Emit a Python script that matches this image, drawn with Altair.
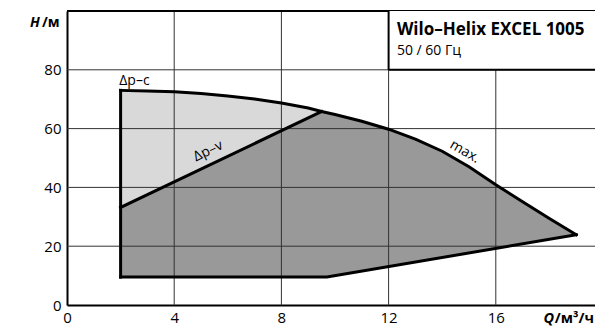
import altair as alt
import pandas as pd

# ---- data ----
max_q = [2, 3, 4, 5, 6, 7, 8, 9, 9.5, 10, 11, 12, 13, 14, 15, 16, 17, 18, 19]
max_h = [73.0, 72.8, 72.5, 71.9, 71.1, 70.1, 68.7, 67.0, 65.8, 64.8, 62.5, 59.8, 56.4,
         52.3, 47.0, 40.9, 35.1, 29.4, 23.9]
dpv_q = [2, 9.5]
dpv_h = [33.2, 65.8]
min_q = [2, 9.7, 19]
min_h = [9.5, 9.5, 23.9]
x_ticks = [0, 4, 8, 12, 16]
y_ticks = [0, 20, 40, 60, 80]
grid_x = [4, 8, 12, 16]
grid_y = [20, 40, 60, 80]
title_text = "Wilo–Helix EXCEL 1005"
sub_text = "50 / 60 Гц"

FONT = "Open Sans"
PX_PER_Q = 26.8
PLOT_W = 528
X_MAX = PLOT_W / PX_PER_Q

# ---- polygons built from the curves ----
k_dpv = max_q.index(dpv_q[1])
light_pts = [(dpv_q[0], dpv_h[0])] + list(zip(max_q[:k_dpv + 1], max_h[:k_dpv + 1]))
dark_pts = ([(min_q[0], min_h[0]), (dpv_q[0], dpv_h[0]), (dpv_q[1], dpv_h[1])]
            + list(zip(max_q[k_dpv + 1:], max_h[k_dpv + 1:])) + [(min_q[1], min_h[1])])
light_df = pd.DataFrame({"q": [p[0] for p in light_pts], "h": [p[1] for p in light_pts],
                         "i": range(len(light_pts))})
dark_df = pd.DataFrame({"q": [p[0] for p in dark_pts], "h": [p[1] for p in dark_pts],
                        "i": range(len(dark_pts))})

segs = []
for name, qs, hs in [("left", [min_q[0], max_q[0]], [min_h[0], max_h[0]]),
                     ("max", max_q, max_h), ("dpv", dpv_q, dpv_h), ("min", min_q, min_h)]:
    for k, (q, h) in enumerate(zip(qs, hs)):
        segs.append({"seg": name, "q": q, "h": h, "i": k})
seg_df = pd.DataFrame(segs)

xs = alt.Scale(domain=[0, X_MAX], nice=False, zero=False)
ys = alt.Scale(domain=[0, 100], nice=False, zero=False)
xaxis = alt.Axis(values=x_ticks, grid=False, ticks=False, labelFontSize=15, labelFont=FONT,
                 labelColor="black", domainColor="black", domainWidth=2, labelPadding=5,
                 labelFlush=False, labelOverlap=False)
yaxis = alt.Axis(values=y_ticks, grid=False, ticks=False, labelFontSize=15, labelFont=FONT,
                 labelColor="black", domainColor="black", domainWidth=2, labelPadding=6,
                 labelOverlap=False)


def X(f="q"):
    return alt.X(f"{f}:Q", scale=xs, axis=xaxis, title=None)


def Y(f="h"):
    return alt.Y(f"{f}:Q", scale=ys, axis=yaxis, title=None)


light = alt.Chart(light_df).mark_line(fill="#d9d9d9", stroke=None, strokeWidth=0).encode(
    x=X(), y=Y(), order="i:Q")
dark = alt.Chart(dark_df).mark_line(fill="#999999", stroke=None, strokeWidth=0).encode(
    x=X(), y=Y(), order="i:Q")

gx = alt.Chart(pd.DataFrame({"q": grid_x})).mark_rule(color="#333333", strokeWidth=1).encode(x=X())
gy = alt.Chart(pd.DataFrame({"h": grid_y})).mark_rule(color="#333333", strokeWidth=1).encode(y=Y())
top = alt.Chart(pd.DataFrame({"h": [100]})).mark_rule(color="black", strokeWidth=2).encode(y=Y())

outline = alt.Chart(seg_df).mark_line(color="black", strokeWidth=3, strokeJoin="miter",
                                      strokeCap="square").encode(
    x=X(), y=Y(), detail="seg:N", order="i:Q")

box_df = pd.DataFrame({"q": [12], "q2": [X_MAX], "h": [80], "h2": [100]})
box = alt.Chart(box_df).mark_rect(fill="white", stroke=None).encode(
    x=X(), x2="q2:Q", y=Y(), y2="h2:Q")
box_l = alt.Chart(box_df).mark_rule(color="black", strokeWidth=2).encode(x=X(), y=Y(), y2="h2:Q")
box_b = alt.Chart(box_df).mark_rule(color="black", strokeWidth=2).encode(x=X(), x2="q2:Q", y=Y())


def txt(q, h, s, size, weight="normal", style="normal", angle=0, align="left",
        baseline="alphabetic"):
    return alt.Chart(pd.DataFrame({"q": [q], "h": [h], "t": [s]})).mark_text(
        font=FONT, fontSize=size, fontWeight=weight, fontStyle=style, angle=angle,
        align=align, baseline=baseline, color="black").encode(x=X(), y=Y(), text="t:N")


texts = [
    txt(12.31, 91.8, title_text, 17, weight="bold"),
    txt(12.31, 85.0, sub_text, 14),
    txt(1.95, 75.0, "Δp–c", 14),
    txt(5.27, 52.3, "Δp–v", 14, angle=334.5, align="center", baseline="middle"),
    txt(14.84, 52.1, "max.", 14, angle=30, align="center", baseline="middle"),
    txt(-1.38, 94.6, "H", 14, weight="bold", style="italic"),
    txt(-0.93, 94.6, "/м", 14, weight="bold"),
    txt(17.78, -6.1, "Q", 14.5, weight="bold", style="italic"),
    txt(18.20, -6.1, "/м³/ч", 14.5, weight="bold"),
]

chart = alt.layer(dark, light, gx, gy, top, outline, box, box_l, box_b, *texts).properties(
    width=PLOT_W, height=294,
    autosize=alt.AutoSizeParams(type="none"),
    padding={"left": 59, "top": 3, "right": 0, "bottom": 22},
).configure_view(stroke=None)

chart.save("out.html", embed_options={"renderer": "svg", "actions": False})
